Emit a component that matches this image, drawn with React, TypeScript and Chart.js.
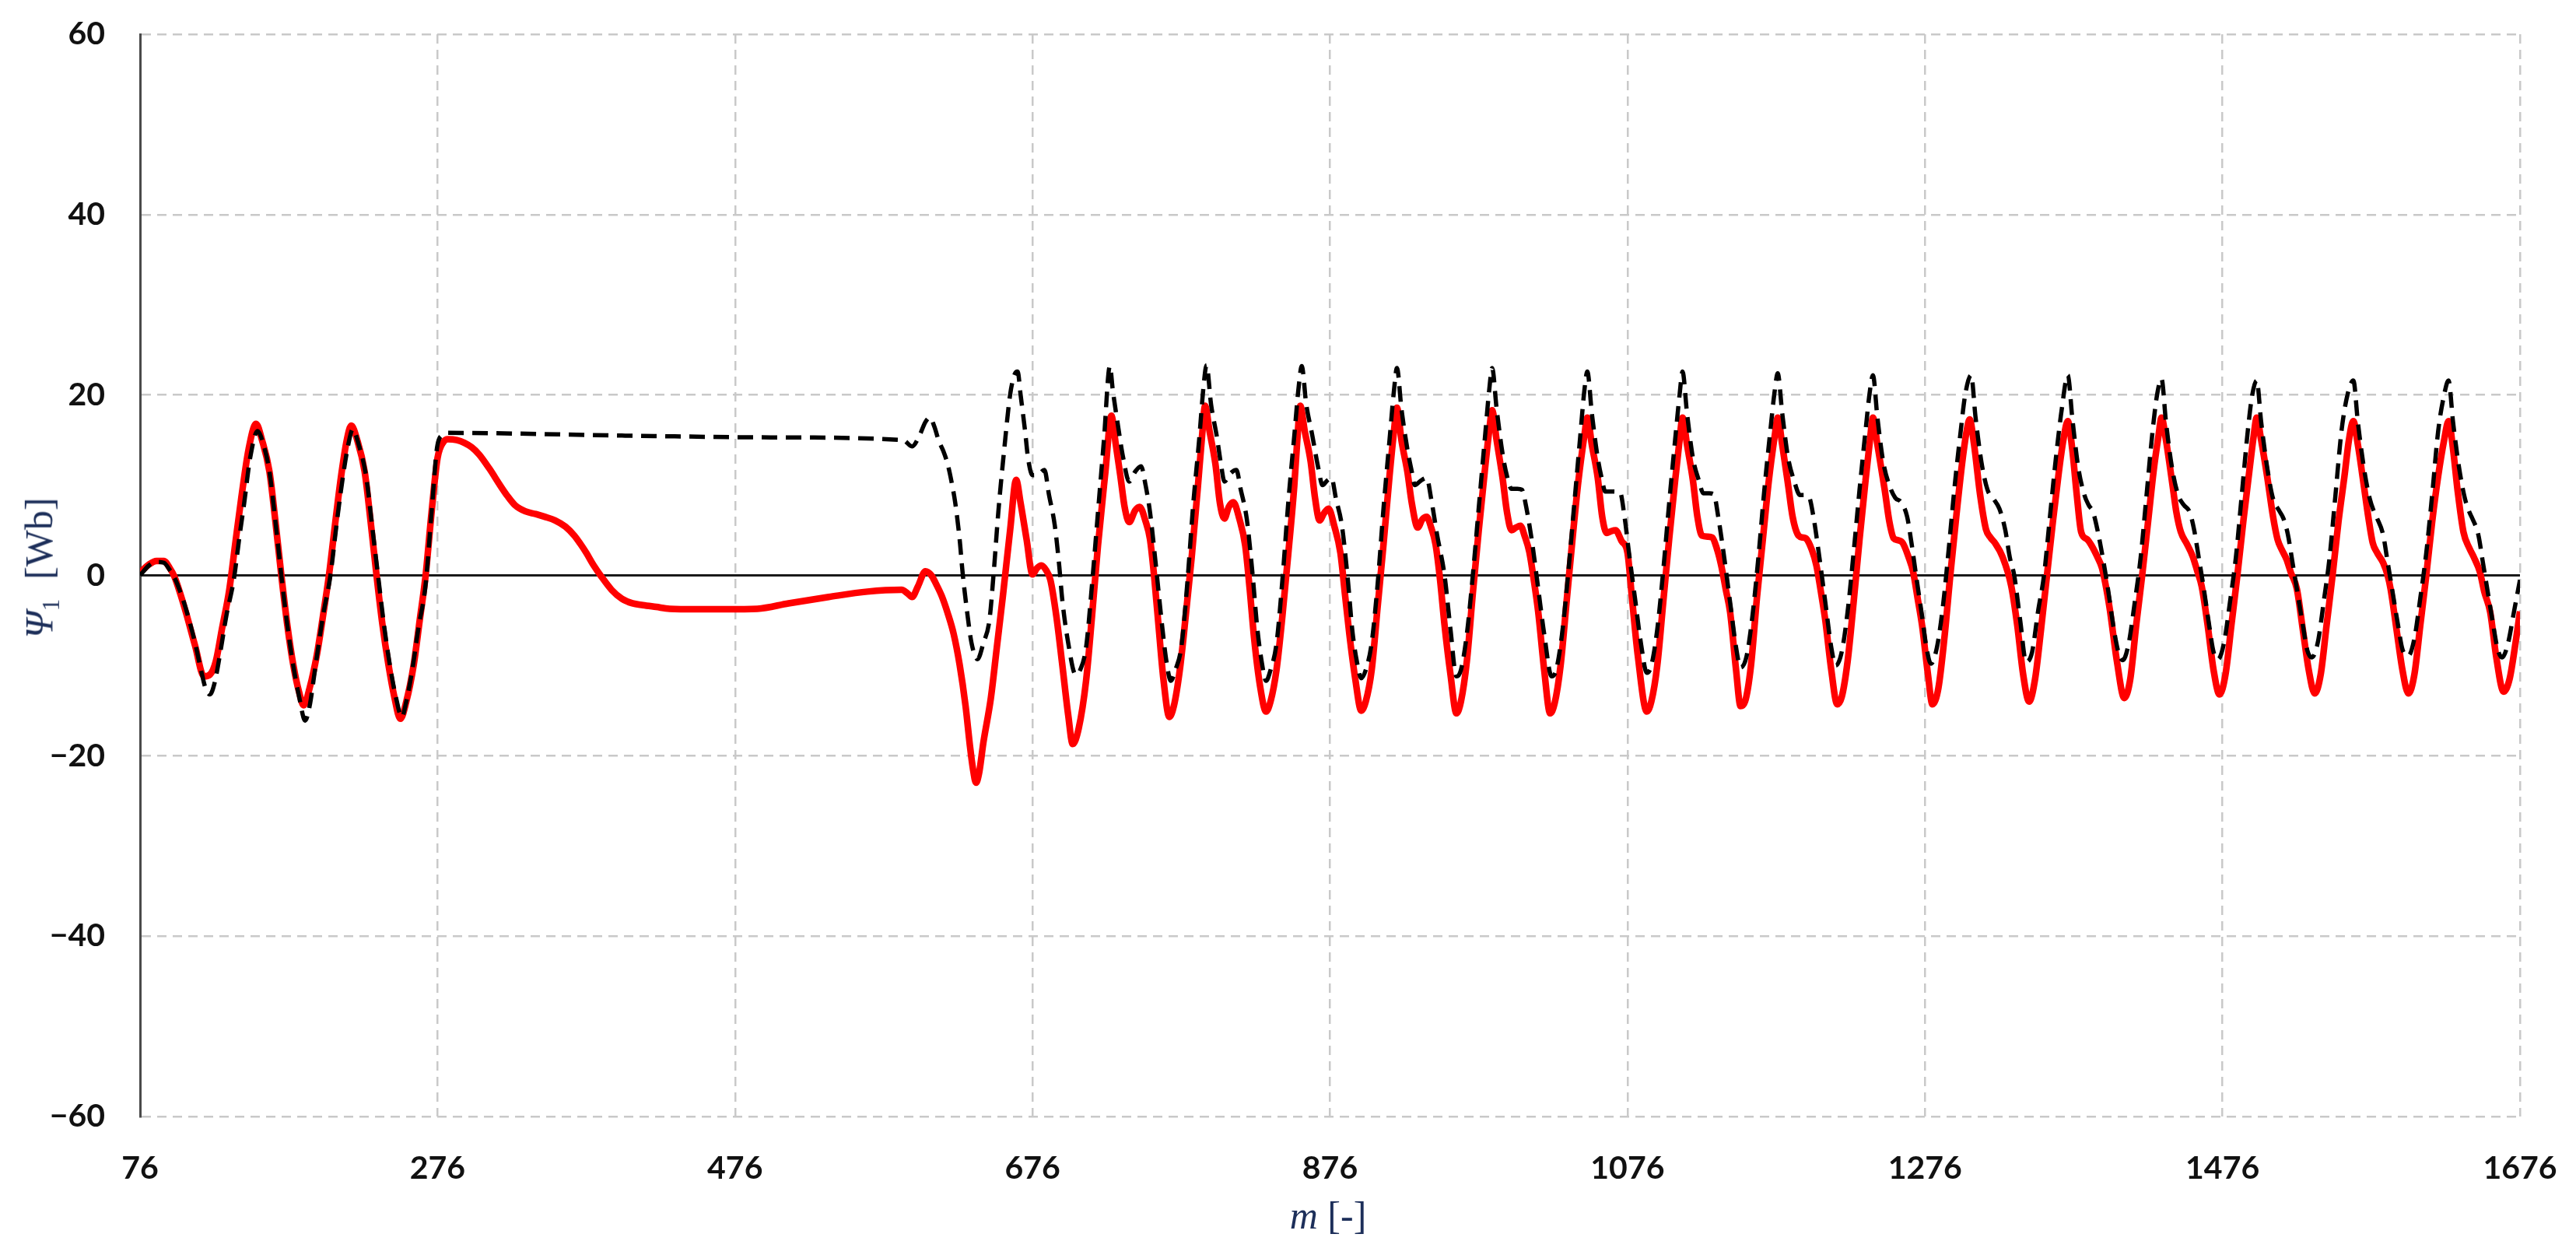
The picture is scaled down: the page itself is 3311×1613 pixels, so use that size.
import React, { useEffect, useRef } from 'react';
import { Chart, registerables } from 'chart.js';

Chart.register(...registerables);

// x axis: sample index m, ticks every 200 starting at 76
const xTicks = [76, 276, 476, 676, 876, 1076, 1276, 1476, 1676];

// red solid curve, [m, Psi1]
const redStart = [
  [76, 0.3], [82, 1.2], [87, 1.6], [92, 1.6], [96, 0.8], [99, -0.1], [103, -2], [107, -4.2], [113, -7.8],
  [119, -11.2], [123, -11], [127, -9.5], [131, -6], [136, -1.6], [140, 3.5], [144, 8.5], [149, 14],
  [154, 16.8], [158, 15], [163, 11.5], [167, 6], [171, 0], [175, -5.5], [179, -9.9], [183, -13],
  [186, -14.4], [190, -12.5], [195, -8.7], [199, -4.5], [203, 0], [207, 5.5], [211, 10.8], [215, 15],
  [218, 16.6], [222, 15], [227, 11.5], [231, 6], [235, 0], [239, -5.5], [243, -9.9], [247, -13.5],
  [251, -15.9], [255, -14], [260, -9.9], [264, -5], [268, 0], [272, 7], [276, 13], [280, 14.8],
  [283, 15.1], [289, 15], [294, 14.7], [299, 14.2], [304, 13.4], [311, 11.8], [318, 10], [323, 8.8],
  [328, 7.8], [335, 7.1], [342, 6.8], [348, 6.5], [355, 6.1], [362, 5.4], [368, 4.4], [372, 3.5],
  [376, 2.5], [381, 1.1], [386, -0.1], [393, -1.6], [400, -2.6], [407, -3.1], [414, -3.3], [423, -3.5],
  [432, -3.7], [450, -3.75], [470, -3.75], [491, -3.7], [512, -3.1], [539, -2.4], [565, -1.8],
  [588, -1.6], [592, -2], [595, -2.4], [599, -1.2], [604, 0.45], [608, 0], [611, -0.9], [615, -2.3],
  [619, -4.2], [623, -6.5], [627, -9.9], [631, -14.5], [634, -19], [636, -21.5], [638, -23], [640, -22],
  [643, -18.5], [648, -13.6], [652, -8], [656, -2.4], [661, 5.1], [665, 10.6], [668, 8], [672, 4],
  [676, 0.1], [679, 0.8], [682, 1.1], [685, 0.6], [688, -0.5], [692, -4.5], [696, -9.9], [700, -15.5],
  [703, -18.7], [707, -17], [712, -11.7], [716, -4.5], [720, 3.3], [725, 11.5],
];

const redCycles = [
  [729, 17.7], [732, 14.5], [735, 11.1], [738, 7.5], [741, 5.9], [745, 7.2], [748, 7.6], [752, 6], [755, 4],
  [758, -0.5], [761, -6.1], [764, -11.5], [768, -15.7], [771, -14.5], [775, -10.5], [779, -4.5], [783, 2],
  [787, 9.5], [790, 15.5],
  [792, 18.8], [795, 16], [799, 12.3], [802, 8], [805, 6.3], [808, 7.6], [811, 8.1], [815, 6.3], [819, 3.3],
  [822, -1.5], [825, -7], [829, -12.3], [833, -15.1], [836, -14], [840, -10.5], [844, -4.5], [848, 2.5],
  [852, 10], [854, 15],
  [856, 18.8], [859, 16], [863, 12.6], [866, 8.5], [869, 6.1], [872, 6.9], [875, 7.4], [879, 5.4], [883, 2.5],
  [886, -2], [889, -6.5], [893, -11.5], [897, -15], [900, -14], [904, -10.5], [908, -3.5], [912, 3.5],
  [916, 11], [919, 16],
  [921, 18.6], [924, 15], [928, 11.5], [931, 8], [935, 5.3], [938, 6.2], [941, 6.5], [944, 5.3], [947, 3.4],
  [950, -0.5], [953, -5.5], [957, -11], [961, -15.3], [964, -14], [968, -9.5], [972, -2], [976, 5],
  [980, 11.5], [983, 16],
  [985, 18.3], [988, 15], [992, 10.8], [995, 7], [998, 5], [1001, 5.3], [1004, 5.5], [1007, 4.3], [1010, 2.6],
  [1013, -0.5], [1016, -4.1], [1020, -10.5], [1024, -15.3], [1027, -14.2], [1031, -10], [1035, -3],
  [1039, 4], [1043, 10.5], [1047, 15.5],
  [1049, 17.5], [1052, 14.5], [1056, 10.8], [1059, 6.5], [1062, 4.7], [1065, 4.9], [1068, 5], [1072, 3.8],
  [1076, 2.5], [1079, -2.5], [1083, -9], [1089, -15.1], [1092, -14], [1096, -10], [1100, -3], [1104, 4],
  [1108, 10.5], [1111, 15],
  [1113, 17.5], [1116, 14.5], [1120, 10.5], [1123, 6.5], [1126, 4.4], [1130, 4.3], [1133, 4.2], [1136, 3],
  [1139, 1.1], [1142, -1.5], [1145, -4.1], [1149, -10.5], [1152, -14.5], [1155, -14], [1159, -10],
  [1163, -2.5], [1167, 4], [1171, 10.5], [1175, 15.5],
  [1177, 17.5], [1180, 14.5], [1184, 10], [1187, 6.5], [1191, 4.4], [1194, 4.2], [1196, 4.1], [1200, 2.8],
  [1203, 1.1], [1206, -1.8], [1209, -5], [1213, -10.5], [1217, -14.3], [1220, -13.5], [1224, -9.5],
  [1228, -3], [1232, 4], [1236, 10.5], [1239, 15],
  [1241, 17.5], [1244, 14.5], [1249, 9.4], [1252, 6], [1255, 4.1], [1258, 3.9], [1261, 3.6], [1265, 2],
  [1268, 0.4], [1271, -2.5], [1274, -5.5], [1278, -11], [1281, -14.3], [1285, -12.5], [1289, -7],
  [1293, 0], [1297, 6.5], [1301, 12.5], [1304, 16],
  [1306, 17.3], [1309, 14.5], [1313, 9], [1317, 5.1], [1320, 4.2], [1323, 3.6], [1328, 2.1], [1334, -1.2],
  [1338, -5.5], [1342, -11], [1346, -14], [1350, -11.5], [1354, -6], [1358, 0], [1362, 6], [1366, 11.5],
  [1369, 15],
  [1372, 17.1], [1375, 14], [1378, 9], [1381, 4.8], [1385, 4], [1388, 3.3], [1392, 2], [1395, 0.8],
  [1400, -3.5], [1405, -9.5], [1410, -13.6], [1414, -11.5], [1418, -5.5], [1422, 0], [1426, 6],
  [1430, 12], [1433, 15.5],
  [1435, 17.5], [1438, 15], [1442, 10.5], [1445, 7], [1448, 4.8], [1452, 3.5], [1456, 2.1], [1459, 0.5],
  [1462, -1.2], [1466, -5.5], [1470, -10.5], [1474, -13.2], [1478, -11], [1482, -5.5], [1486, 0],
  [1490, 6], [1494, 11.5], [1497, 15.5],
  [1499, 17.5], [1502, 15], [1506, 11], [1510, 6.5], [1513, 4], [1516, 2.8], [1519, 1.8], [1522, 0.3],
  [1526, -1.5], [1530, -6], [1534, -10.5], [1538, -13.1], [1542, -11], [1546, -5.5], [1550, 0],
  [1554, 6], [1558, 11], [1561, 15],
  [1564, 17.1], [1567, 14.5], [1571, 10], [1574, 6.5], [1577, 3.6], [1580, 2.5], [1584, 1.4], [1587, 0],
  [1589, -1.5], [1593, -6], [1597, -10.5], [1601, -13.1], [1605, -11], [1609, -5.5], [1613, 0],
  [1617, 6], [1621, 11], [1625, 15],
  [1628, 17.1], [1631, 14], [1634, 9.5], [1638, 4.8], [1642, 3], [1645, 2], [1649, 0.4], [1652, -1.8],
  [1656, -4.1], [1660, -9], [1665, -12.9], [1669, -11.5], [1673, -7.5], [1676, -4],
];

// black dashed curve, [m, Psi1]
const blackStart = [
  [76, 0], [82, 1.1], [87, 1.5], [92, 1.4], [96, 0.6], [99, -0.2], [103, -1.8], [107, -3.8], [113, -7.5],
  [117, -10.5], [120, -12.5], [123, -13.2], [126, -12], [130, -8.5], [134, -4.5], [139, -0.5], [143, 4.5],
  [146, 8], [150, 13], [155, 16], [159, 14.5], [163, 11.5], [167, 6], [171, 0], [175, -5.5], [179, -10],
  [183, -13.5], [187, -16.1], [190, -14.5], [194, -10], [199, -4.5], [204, 0], [208, 5.5], [212, 10.5],
  [216, 14.5], [219, 16.2], [223, 14.5], [228, 11], [232, 5.5], [236, 0], [240, -5.5], [244, -10],
  [248, -13.5], [252, -15.7], [255, -14], [259, -10.5], [263, -6], [268, -1], [272, 7], [276, 14.5],
  [280, 15.6], [283, 15.8], [400, 15.5], [500, 15.3], [589, 15], [595, 14.3], [600, 15.5], [604, 17],
  [607, 17.5], [610, 16.5], [613, 14.9], [616, 13.8], [619, 12.3], [622, 10], [624, 8.1], [627, 4],
  [629, 0.3], [632, -4], [635, -7.5], [639, -9.3], [643, -7.5], [647, -5], [650, 0.5], [653, 7],
  [657, 14], [661, 20.1], [664, 22.3], [666, 22.6], [668, 20], [671, 16], [673, 13], [676, 11.1],
  [680, 11.2], [684, 11.7], [687, 9], [691, 5.5], [694, 1], [696, -2.7], [700, -7.5], [705, -11],
  [708, -10.5], [712, -8], [716, -1], [720, 7], [724, 15],
];

const blackCycles = [
  [728, 23.2], [730, 20.5], [733, 17.1], [737, 13], [741, 10.4], [745, 11.5], [749, 12.1], [752, 10],
  [755, 7], [759, 1], [763, -5.4], [766, -9.5], [769, -11.7], [772, -10.5], [776, -8], [780, -1],
  [784, 7.8], [788, 15], [791, 21],
  [793, 23.3], [796, 19], [800, 15.3], [803, 12], [805, 10.4], [809, 11.3], [813, 11.7], [816, 9.5],
  [820, 6.3], [824, 0], [827, -5.7], [830, -9.5], [833, -11.7], [836, -10.5], [840, -7.6], [844, -0.5],
  [848, 8.2], [852, 15.5], [855, 21],
  [857, 23.2], [860, 19], [864, 15.6], [868, 12], [871, 10], [874, 10.5], [877, 10.8], [880, 8.5],
  [884, 5.5], [888, -0.5], [891, -6.1], [894, -9.5], [897, -11.4], [900, -10.5], [904, -7.5], [908, -1],
  [912, 7.5], [916, 15], [919, 20.5],
  [921, 23], [924, 18.5], [928, 14], [931, 11.5], [933, 10], [937, 10.5], [941, 10.8], [944, 8.5],
  [948, 4.5], [953, 0], [957, -6], [961, -11.2], [964, -10.5], [968, -6.5], [972, 0], [976, 7.5],
  [980, 15], [983, 20.5],
  [985, 23], [988, 18.5], [992, 13.5], [995, 11], [998, 9.6], [1002, 9.6], [1005, 9.5], [1008, 7.5],
  [1012, 3.5], [1016, -1.5], [1020, -6.5], [1025, -11.2], [1028, -10.5], [1032, -6.5], [1036, 0],
  [1040, 7.5], [1044, 15], [1047, 20.5],
  [1049, 22.6], [1052, 18], [1056, 13], [1059, 10.5], [1061, 9.3], [1066, 9.3], [1071, 9.2], [1074, 6.5],
  [1077, 2.5], [1081, -2.5], [1085, -7.5], [1089, -10.8], [1092, -10], [1096, -6], [1100, 0.5],
  [1104, 8], [1108, 15], [1111, 20],
  [1113, 22.6], [1116, 18], [1120, 13], [1124, 10.5], [1127, 9.1], [1131, 9.1], [1134, 9], [1137, 6.5],
  [1141, 2], [1145, -3], [1149, -8], [1152, -10.2], [1156, -9], [1160, -4.5], [1164, 2], [1168, 9.5],
  [1172, 16], [1175, 20.5],
  [1177, 22.4], [1180, 18], [1184, 13], [1188, 10.5], [1192, 8.9], [1195, 8.9], [1198, 8.7], [1201, 6.5],
  [1205, 2], [1209, -3], [1213, -8], [1216, -10], [1220, -8.5], [1224, -4], [1228, 2.5], [1232, 9.5],
  [1236, 16], [1239, 20.5],
  [1241, 22.2], [1244, 17.5], [1248, 12.5], [1252, 10], [1256, 8.6], [1260, 8.1], [1264, 6.5], [1267, 3.5],
  [1270, 0], [1274, -4.5], [1277, -8], [1280, -9.8], [1284, -8], [1288, -3.5], [1292, 3], [1296, 10],
  [1300, 16], [1303, 20],
  [1307, 22.2], [1310, 17.5], [1314, 12.5], [1318, 9.5], [1322, 8.5], [1326, 7.4], [1330, 5], [1333, 2],
  [1336, 0], [1340, -5], [1344, -9.6], [1348, -8.5], [1352, -4], [1356, 0], [1360, 6.5], [1364, 13],
  [1368, 18.5],
  [1372, 22.2], [1375, 17.5], [1379, 12], [1383, 9], [1386, 7.8], [1389, 7], [1392, 5], [1396, 1.5],
  [1399, -1.5], [1403, -6], [1406, -8.5], [1409, -9.4], [1413, -7.5], [1417, -3], [1421, 2], [1425, 9],
  [1429, 16], [1432, 20],
  [1435, 21.8], [1438, 17], [1442, 12], [1446, 9], [1450, 7.8], [1454, 7], [1457, 5], [1460, 2],
  [1463, -1], [1467, -5.5], [1470, -8.5], [1473, -9.3], [1477, -7.5], [1481, -3], [1485, 2], [1489, 9],
  [1493, 16], [1496, 20],
  [1499, 21.6], [1502, 17], [1506, 12], [1510, 8.5], [1514, 7.2], [1517, 6.3], [1520, 4.5], [1523, 1.5],
  [1526, -1.5], [1530, -5.5], [1533, -8.3], [1536, -9.1], [1540, -7.5], [1544, -3], [1548, 2], [1552, 9],
  [1556, 16], [1560, 20],
  [1564, 21.6], [1567, 17], [1571, 12], [1575, 8.5], [1578, 7], [1580, 6.3], [1584, 4.5], [1587, 1.5],
  [1590, -1.5], [1594, -5.5], [1597, -8.2], [1601, -8.9], [1605, -7], [1609, -2.5], [1613, 2.5],
  [1617, 9], [1621, 16], [1625, 20],
  [1628, 21.6], [1631, 17], [1635, 12], [1639, 8.5], [1642, 7], [1644, 6.3], [1648, 4.5], [1651, 1.5],
  [1654, -1.5], [1658, -5.5], [1661, -8.2], [1664, -9.1], [1668, -7.5], [1672, -4], [1676, -0.5],
];

const toPoints = (list: number[][]) => list.map(([x, y]) => ({ x, y }));

const GRID = '#c9c9c9';
const tickFont = { family: 'Lato, "Liberation Sans", sans-serif', size: 41, weight: 'bold' as const };
const titleStyle: React.CSSProperties = {
  position: 'absolute',
  fontFamily: '"Liberation Serif", "DejaVu Serif", serif',
  fontSize: 50,
  color: '#1d2f5a',
  whiteSpace: 'nowrap',
  lineHeight: 1,
};

export default function App() {
  const canvasRef = useRef<HTMLCanvasElement>(null);

  useEffect(() => {
    document.body.style.margin = '0';
    const ctx = canvasRef.current?.getContext('2d');
    if (!ctx) return;

    const chart = new Chart(ctx, {
      type: 'line',
      data: {
        datasets: [
          {
            label: 'dashed',
            data: toPoints([...blackStart, ...blackCycles]),
            borderColor: '#000000',
            borderWidth: 5.5,
            borderDash: [20, 11],
            pointRadius: 0,
            cubicInterpolationMode: 'monotone',
            fill: false,
          },
          {
            label: 'solid',
            data: toPoints([...redStart, ...redCycles]),
            borderColor: '#ff0000',
            borderWidth: 8.5,
            pointRadius: 0,
            cubicInterpolationMode: 'monotone',
            fill: false,
          },
        ],
      },
      options: {
        animation: false,
        responsive: true,
        maintainAspectRatio: false,
        layout: { padding: { top: 44, right: 72, left: 0, bottom: 0 } },
        plugins: { legend: { display: false }, tooltip: { enabled: false } },
        scales: {
          x: {
            type: 'linear',
            min: 76,
            max: 1676,
            afterBuildTicks: (scale: any) => {
              scale.ticks = xTicks.map(v => ({ value: v }));
            },
            // fixed axis band; drop the label overhang so the layout padding alone places the plot
            afterFit: (scale: any) => {
              scale.height = 178;
              scale.paddingLeft = 0;
              scale.paddingRight = 0;
            },
            ticks: {
              autoSkip: false,
              maxRotation: 0,
              padding: 42,
              color: '#111',
              font: tickFont,
              callback: (v: any) => String(v),
            },
            grid: { color: GRID, lineWidth: 2.5, drawTicks: false },
            border: { display: false, dash: [12, 8] },
          },
          y: {
            min: -60,
            max: 60,
            afterFit: (scale: any) => {
              scale.width = 180;
              scale.paddingTop = 0;
              scale.paddingBottom = 0;
            },
            ticks: {
              stepSize: 20,
              padding: 45,
              color: '#111',
              font: tickFont,
              callback: (v: any) => (v < 0 ? '\u2212' + Math.abs(v) : String(v)),
            },
            grid: {
              color: (c: any) => (c.tick && c.tick.value === 0 ? '#1a1a1a' : GRID),
              lineWidth: (c: any) => (c.tick && c.tick.value === 0 ? 3 : 2.5),
              drawTicks: false,
            },
            border: {
              display: true,
              color: '#4a4a4a',
              width: 3,
              dash: (c: any) => (c.tick && c.tick.value === 0 ? [] : [12, 8]),
            },
          },
        },
      },
    });

    return () => {
      chart.destroy();
    };
  }, []);

  return (
    <div style={{ position: 'relative', width: 3311, height: 1613, background: '#fff' }}>
      <canvas ref={canvasRef}></canvas>
      <div
        style={{
          ...titleStyle,
          left: 53,
          top: 730,
          transform: 'translate(-50%, -50%) rotate(-90deg)',
        }}
      >
        <i>Ψ</i>
        <span style={{ fontSize: '0.62em', verticalAlign: '-0.3em' }}>1</span>
        {'\u00a0\u00a0[Wb]'}
      </div>
      <div
        style={{
          ...titleStyle,
          left: 1707,
          top: 1562,
          transform: 'translate(-50%, -50%)',
        }}
      >
        <i>m</i>
        {' [-]'}
      </div>
    </div>
  );
}
